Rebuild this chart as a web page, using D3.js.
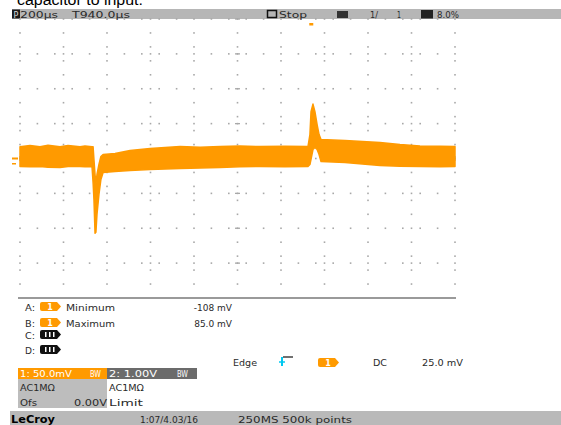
<!DOCTYPE html>
<html><head><meta charset="utf-8">
<script src="https://cdn.jsdelivr.net/npm/d3@7/dist/d3.min.js"></script>
<style>html,body{margin:0;padding:0;background:#fff;overflow:hidden}svg{display:block;overflow:visible}</style>
</head><body><svg id="c" width="561" height="425"></svg>
<script>
// ---------- data ----------
const titleText = "capacitor to input.";
const timebaseLabel = "200µs";
const delayLabel = "T940.0µs";
const statusLabels = ["Stop", "1/", "1", "8.0%"];
// trace envelope (time in µs, voltage in mV; 200 µs/div, 50 mV/div)
const timeUs  = [-1000,-954,-908,-871,-816,-779,-724,-701,-669,-664,-660,-655,-651,-646,-637,-628,-618,-563,-494,-402,-264,-172,-80,11,103,218,324,333,338,347,356,366,375,384,494,655,747,839,931,1000];
const upperMv = [17,18.5,17,19,17,18.5,17,18,17,17,-1.4,-22.9,-37.1,-22.9,-8.6,2.9,5.7,7.1,11.4,14.3,17.1,16,17.1,18,17.1,17.5,17.1,34.3,67.1,78,67.1,48.6,34.3,27.1,25.7,22.9,20,18,17.5,17.1];
const lowerMv = [-11.4,-12,-11.4,-12.5,-12.9,-11.4,-11.4,-12,-11.4,-34.3,-58.6,-107,-105.7,-80,-51.4,-30,-20,-18.6,-17.1,-15.7,-14.3,-13.5,-12.9,-12,-11.4,-12,-11.4,-8.6,-1.4,12.9,15.7,12.9,5.7,-4.3,-5.7,-10,-11,-11.4,-12,-11.4];
const measLetters = ["A:", "B:", "C:", "D:"];
const measSources = ["1", "1", "", ""];
const measNames   = ["Minimum", "Maximum", "", ""];
const measValues  = ["-108 mV", "85.0 mV", "", ""];
const trigLabels  = ["Edge", "DC", "25.0 mV"];
const chanHeads   = ["1: 50.0mV", "2: 1.00V"];
const chanBw      = ["BW", "BW"];
const chanCoupling = ["AC1MΩ", "AC1MΩ"];
const chanOffsetLabel = "Ofs";
const chanOffsetValue = "0.00V";
const chanLimit = "Limit";
const footerLabels = ["LeCroy", "1:07/4.03/16", "250MS 500k points"];

// ---------- drawing ----------
const svg = d3.select("#c");
const ORANGE = "#ff9a00";
const x = d3.scaleLinear().domain([-1000, 1000]).range([20, 455]);
const y = d3.scaleLinear().domain([-200, 200]).range([298, 19]);
const FONT = "DejaVu Sans, sans-serif";

function txt(px, py, s, o = {}) {
  const t = svg.append("text").attr("x", px).attr("y", py).text(s)
    .attr("font-family", o.family || FONT).attr("font-size", o.size || 9)
    .attr("fill", o.fill || "#2a2a2a")
    .attr("font-weight", o.weight || "normal")
    .attr("text-anchor", o.anchor || "start");
  if (o.len) t.attr("textLength", o.len).attr("lengthAdjust", "spacingAndGlyphs");
  return t;
}

// title (cut at top, as in the reference)
txt(17, 4.5, titleText, { size: 15.5, family: "Liberation Sans, Arial, sans-serif", fill: "#000", len: 126 });

// header bar
svg.append("rect").attr("x", 12).attr("y", 9).attr("width", 549).attr("height", 10).attr("fill", "#b6b6b6");
svg.append("rect").attr("x", 12).attr("y", 9.5).attr("width", 8).attr("height", 9).attr("fill", "#1a1a1a");
txt(13.5, 17.5, "P", { size: 8, fill: "#ddd" });
txt(20, 17.8, timebaseLabel, { len: 38 });
txt(72, 17.8, delayLabel, { len: 58 });
svg.append("rect").attr("x", 267.5).attr("y", 10.5).attr("width", 9).attr("height", 7).attr("fill", "none").attr("stroke", "#111").attr("stroke-width", 1.5);
txt(279, 17.8, statusLabels[0], { len: 28 });
svg.append("rect").attr("x", 337).attr("y", 11).attr("width", 11).attr("height", 7).attr("fill", "#333");
txt(370, 17.8, statusLabels[1], { len: 8 });
txt(397, 17.8, statusLabels[2], { len: 4 });
svg.append("rect").attr("x", 421).attr("y", 10).attr("width", 12).attr("height", 8.5).attr("fill", "#222");
txt(437, 17.8, statusLabels[3], { len: 22 });

// grid dots (sparse)
const dotCol = "#a8a8a8";
const majT = d3.range(-1000, 1001, 200), majV = d3.range(-200, 201, 50);
const minT = d3.range(-1000, 1001, 80), minV = d3.range(-200, 201, 20);
const gdots = svg.append("g");
function dot(px, py) { gdots.append("rect").attr("x", px - 0.8).attr("y", py - 0.8).attr("width", 1.6).attr("height", 1.6).attr("fill", dotCol); }
majT.forEach(t => minV.forEach(v => { if (v !== -200) dot(x(t), y(v)); }));
majV.forEach(v => { if (v !== -200) minT.forEach(t => { if (t % 200 !== 0) dot(x(t), y(v)); }); });
majT.forEach(t => majV.forEach(v => { if (v !== -200 && v % 20 !== 0) dot(x(t), y(v)); }));
// centre-axis ticks
majV.forEach(v => { if (v === -200 || v === 0) return;
  gdots.append("line").attr("x1", x(0) - 2.5).attr("x2", x(0) + 2.5).attr("y1", y(v)).attr("y2", y(v)).attr("stroke", dotCol).attr("stroke-width", 1.3); });
majT.forEach(t => { if (t === 0) return;
  gdots.append("line").attr("x1", x(t)).attr("x2", x(t)).attr("y1", y(0) - 2.5).attr("y2", y(0) + 2.5).attr("stroke", dotCol).attr("stroke-width", 1.3); });

// trace envelope
const pts = timeUs.map((t, i) => ({ t, hi: upperMv[i], lo: lowerMv[i] }));
const area = d3.area().x(d => x(d.t)).y0(d => y(d.lo)).y1(d => y(d.hi));
svg.append("path").datum(pts).attr("d", area).attr("fill", ORANGE).attr("stroke", ORANGE).attr("stroke-width", 1.5).attr("stroke-linejoin", "round");

// markers
svg.append("rect").attr("x", 12).attr("y", 157.5).attr("width", 6).attr("height", 2).attr("fill", ORANGE);
svg.append("rect").attr("x", 12).attr("y", 163).attr("width", 4).attr("height", 1.5).attr("fill", ORANGE);
svg.append("rect").attr("x", x(330)).attr("y", 23).attr("width", 4).attr("height", 2.5).attr("fill", ORANGE);

// bottom border of grid
svg.append("line").attr("x1", 18).attr("x2", 456).attr("y1", 298).attr("y2", 298).attr("stroke", "#9a9a9a").attr("stroke-width", 2);

// badges
function badge(bx, by, label, color) {
  svg.append("path").attr("d", `M${bx+2},${by} H${bx+17} L${bx+21},${by+4.5} L${bx+17},${by+9} H${bx+2} Q${bx},${by+9} ${bx},${by+7} V${by+2} Q${bx},${by} ${bx+2},${by} Z`).attr("fill", color);
  if (color === ORANGE) txt(bx + 10, by + 8, label, { fill: "#fff", anchor: "middle", size: 8, weight: "bold" });
  else [5, 9, 13].forEach(dx => svg.append("rect").attr("x", bx + dx).attr("y", by + 2).attr("width", 1.5).attr("height", 5).attr("fill", "#fff"));
}
const rowY = [302, 318, 330, 345];
measLetters.forEach((l, i) => {
  txt(25, rowY[i] + 8.5, l, { len: 10 });
  badge(40, rowY[i], measSources[i], measSources[i] ? ORANGE : "#111");
  if (measNames[i]) txt(66, rowY[i] + 8.5, measNames[i], { len: 49 });
  if (measValues[i]) txt(232, rowY[i] + 8.5, measValues[i], { anchor: "end" });
});

// trigger line
txt(233, 366, trigLabels[0], { len: 24 });
svg.append("path").attr("d", "M282,366 V357").attr("stroke", "#00c8f0").attr("stroke-width", 2).attr("fill", "none");
svg.append("path").attr("d", "M279,362 H285").attr("stroke", "#00c8f0").attr("stroke-width", 1.5);
svg.append("path").attr("d", "M283,357 H293").attr("stroke", "#111").attr("stroke-width", 1.2);
badge(318, 358, "1", ORANGE);
txt(373, 366, trigLabels[1], { len: 14 });
txt(422, 366, trigLabels[2], { len: 41 });

// channel boxes
svg.append("rect").attr("x", 18).attr("y", 368).attr("width", 89).attr("height", 11).attr("fill", ORANGE);
svg.append("rect").attr("x", 107).attr("y", 368).attr("width", 90).attr("height", 11).attr("fill", "#6b6b6b");
svg.append("rect").attr("x", 18).attr("y", 379).attr("width", 89).attr("height", 29).attr("fill", "#bdbdbd");
txt(20, 377, chanHeads[0], { fill: "#fff", len: 52 });
txt(90, 377, chanBw[0], { fill: "#fff", len: 11 });
txt(109, 377, chanHeads[1], { fill: "#fff", len: 48 });
txt(177, 377, chanBw[1], { fill: "#fff", len: 11 });
txt(20, 391, chanCoupling[0], { len: 35 });
txt(109, 391, chanCoupling[1], { len: 35 });
txt(20, 406, chanOffsetLabel, { len: 17 });
txt(107, 406, chanOffsetValue, { anchor: "end", len: 33 });
txt(109, 406, chanLimit, { len: 34 });

// footer bar
svg.append("rect").attr("x", 10).attr("y", 411).attr("width", 551).attr("height", 14).attr("fill", "#b9b9b9");
txt(11, 423, footerLabels[0], { size: 11, fill: "#000", len: 44, weight: "bold" });
txt(140, 422.5, footerLabels[1], { len: 58 });
txt(238, 422.5, footerLabels[2], { len: 114 });
</script></body></html>
